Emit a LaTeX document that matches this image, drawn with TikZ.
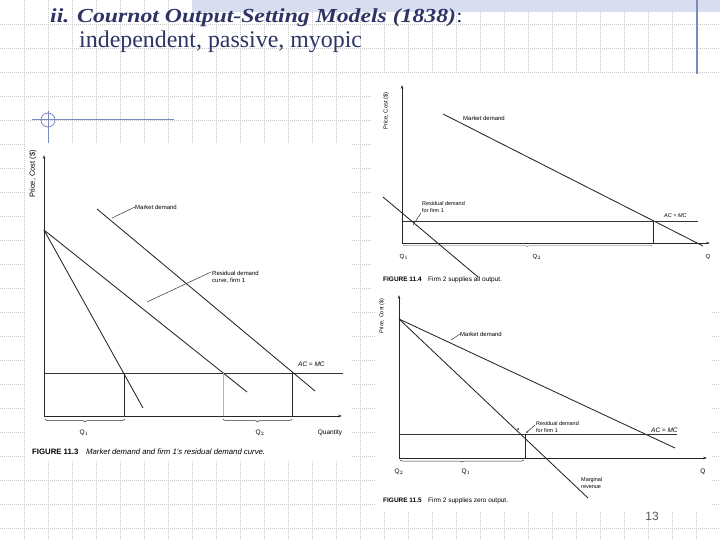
\documentclass[tikz,border=0pt]{standalone}
\usepackage{fontspec}
\setmainfont{Liberation Serif}
\newfontfamily\figsans{Liberation Sans}
\usetikzlibrary{arrows.meta,decorations.pathreplacing}
\definecolor{titleblue}{HTML}{2E3566}
\definecolor{gridgray}{HTML}{C8C8C8}
\definecolor{bandblue}{HTML}{D8DEF0}
\definecolor{decoblue}{HTML}{7D8AC0}
\begin{document}
\begin{tikzpicture}[x=1bp,y=-1bp,
  gridline/.style={gridgray, line width=0.6bp, dash pattern=on 0.8bp off 1.2bp},
  deco/.style={decoblue, line width=1.2bp},
  figline/.style={line width=0.85bp, black!85},
  thinline/.style={line width=0.5bp, black!80},
  axisline/.style={line width=0.8bp, black!85, -{Stealth[length=4bp,width=2.6bp]}},
  lab/.style={font=\figsans\fontsize{6}{7}\selectfont, inner sep=0pt, anchor=west},
  qlab/.style={font=\figsans\fontsize{6.5}{7.5}\selectfont, inner sep=0pt},
  ylab/.style={font=\figsans\fontsize{6}{7}\selectfont, inner sep=0pt, rotate=90},
  caplab/.style={font=\figsans\fontsize{6.5}{7.5}\selectfont, inner sep=0pt, anchor=west},
  bracedown/.style={thinline, decorate, decoration={brace, mirror, amplitude=3bp}},
  whitebox/.style={fill=white, draw=none}]
\useasboundingbox (0,0) rectangle (720,540);
\fill[white] (0,0) rectangle (720,540);
% grid
\foreach \gx in {24,48,...,696} \draw[gridline] (\gx,0) -- (\gx,540);
\foreach \gy in {24,48,...,528} \draw[gridline] (0,\gy) -- (720,\gy);
% template decorations
\fill[bandblue] (192,0) rectangle (720,12);
\draw[deco] (697,0) -- (697,77);
\coordinate (hl) at (32,120);
\coordinate (hr) at (174,120);
\coordinate (vt) at (48,111);
\coordinate (vb) at (48,143);
\draw[deco, line width=1bp] (hl) -- (hr);
\draw[deco, line width=1bp] (vt) -- (vb);
\draw[deco, line width=0.8bp] (48,120) circle (7);
% title
\node[anchor=base west, inner sep=0, xscale=1.19, text=titleblue, font=\fontsize{20}{24}\selectfont\bfseries\itshape] (title) at (50,23) {ii. Cournot Output-Setting Models (1838){\upshape\mdseries:}};
\node[anchor=base west, inner sep=0, text=titleblue, font=\fontsize{24}{28}\selectfont] (subtitle) at (79,48) {independent, passive, myopic};
% white photo areas
\fill[whitebox] (25,143) rectangle (352,462);
\fill[whitebox] (372,74) rectangle (720,290);
\fill[whitebox] (376,290) rectangle (712,512);

% ===== Figure 11.3 =====
\coordinate (Ao) at (44,416);
\coordinate (Ay) at (44,155);
\coordinate (Ax) at (342,416);
\draw[axisline] (Ao) -- (Ay);
\draw[axisline] (Ao) -- (Ax);
\node[ylab, font=\figsans\fontsize{7.5}{8.5}\selectfont] (Ap) at (33,174) {Price, Cost (\$)};
\coordinate (Acl) at (44,373);
\coordinate (Acr) at (343,373);
\draw[thinline] (Acl) -- (Acr);
\coordinate (Atop) at (44,230);
\coordinate (Amr) at (143,408);
\coordinate (Ares) at (247,392);
\coordinate (Ams) at (97,209);
\coordinate (Ame) at (315,391);
\draw[figline] (Atop) -- (Amr);
\draw[figline] (Atop) -- (Ares);
\draw[figline] (Ams) -- (Ame);
\draw[figline] (124,373) -- (124,416);
\draw[figline] (292,373) -- (292,416);
\draw[line width=0.5bp, black!30] (223,373) -- (223,416);
\draw[bracedown] (45,419) -- (125,419);
\draw[bracedown] (223,419) -- (292,419);
\node[qlab] (AQ1) at (84,433) {Q$_1$};
\node[qlab] (AQ2) at (260,433) {Q$_2$};
\node[qlab] (AQ) at (330,433) {Quantity};
\node[lab] (Amd) at (135,207) {Market demand};
\draw[thinline] (112,218) -- (Amd.west);
\node[lab, align=left] (Ard) at (212,277) {Residual demand\\curve, firm 1};
\draw[thinline] (147,302) -- (211,272);
\node[lab, font=\figsans\itshape\fontsize{6.5}{7.5}\selectfont] (Aac) at (298,364) {AC = MC};
\node[caplab, font=\figsans\fontsize{7.8}{9}\selectfont] (Acap) at (32,452) {\textbf{FIGURE 11.3}\quad \textit{Market demand and firm 1's residual demand curve.}};

% ===== Figure 11.4 =====
\coordinate (Bo) at (402,243);
\coordinate (By) at (402,85);
\coordinate (Bx) at (710,243);
\draw[axisline] (Bo) -- (By);
\draw[axisline] (Bo) -- (Bx);
\node[ylab, font=\figsans\fontsize{5.8}{6.5}\selectfont] (Bp) at (386,111) {Price, Cost (\$)};
\coordinate (Bms) at (443,114);
\coordinate (Bme) at (703,246);
\draw[figline] (Bms) -- (Bme);
\node[lab] (Bmd) at (463,118) {Market demand};
\draw[thinline] (402,221) -- (698,221);
\node[lab, font=\figsans\itshape\fontsize{5.5}{6.5}\selectfont] (Bac) at (664,216) {AC = MC};
\draw[figline] (653,221) -- (653,243);
\coordinate (Brs) at (383,197);
\coordinate (Bre) at (478,277);
\draw[figline] (Brs) -- (Bre);
\node[lab, align=left, font=\figsans\fontsize{5.5}{7}\selectfont] (Brd) at (422,207) {Residual demand\\for firm 1};
\draw[thinline] (413,225) -- (421,213);
\draw[line width=0.4bp, black!70, decorate, decoration={brace, mirror, amplitude=1.5bp}] (403,245) -- (652,245);
\node[qlab, font=\figsans\fontsize{6}{7}\selectfont] (BQ1) at (404,257) {Q$_1$};
\node[qlab, font=\figsans\fontsize{6}{7}\selectfont] (BQ2) at (537,257) {Q$_2$};
\node[qlab, font=\figsans\fontsize{6}{7}\selectfont] (BQ) at (708,257) {Q};
\node[caplab] (Bcap) at (383,280) {\textbf{FIGURE 11.4}\quad Firm 2 supplies all output.};

% ===== Figure 11.5 =====
\coordinate (Co) at (399,458);
\coordinate (Cy) at (399,295);
\coordinate (Cx) at (707,458);
\draw[axisline] (Co) -- (Cy);
\draw[axisline] (Co) -- (Cx);
\node[ylab, font=\figsans\fontsize{5.5}{6.5}\selectfont] (Cp) at (382,316) {Price, Cost (\$)};
\coordinate (Ctop) at (399,319);
\coordinate (Cme) at (675,448);
\coordinate (Cmr) at (588,498);
\draw[figline] (Ctop) -- (Cme);
\draw[figline] (Ctop) -- (Cmr);
\node[lab] (Cmd) at (460,334) {Market demand};
\draw[thinline] (451,340) -- (Cmd.west);
\draw[thinline] (399,434) -- (677,434);
\node[lab, font=\figsans\itshape\fontsize{6.5}{7.5}\selectfont] (Cac) at (651,430) {AC = MC};
\draw[figline] (525,434) -- (525,458);
\node[lab, align=left, font=\figsans\fontsize{5.5}{7}\selectfont] (Crd) at (536,427) {Residual demand\\for firm 1};
\draw[thinline, -{Stealth[length=2.5bp,width=2bp]}] (535,425) -- (526,433);
\fill[black!80] (518,429) circle (1);
\draw[bracedown, decoration={brace, mirror, amplitude=2bp}] (400,460) -- (524,460);
\node[qlab] (CQ2) at (399,472) {Q$_2$};
\node[qlab] (CQ1) at (466,472) {Q$_1$};
\node[qlab] (CQ) at (703,472) {Q};
\node[lab, align=left, font=\figsans\fontsize{5.5}{7}\selectfont] (Cmrl) at (581,483) {Marginal\\revenue};
\node[caplab] (Ccap) at (383,501) {\textbf{FIGURE 11.5}\quad Firm 2 supplies zero output.};

% page number
\node[font=\figsans\fontsize{12}{14}\selectfont, text=black!65, inner sep=0] (pnum) at (652,516) {13};
\end{tikzpicture}
\end{document}
